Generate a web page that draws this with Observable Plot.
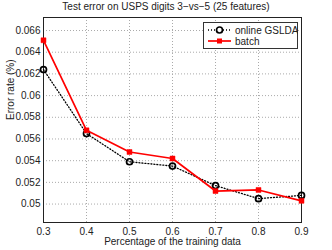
<!DOCTYPE html>
<html>
<head>
<meta charset="utf-8">
<script src="https://cdn.jsdelivr.net/npm/d3@7"></script>
<script src="https://cdn.jsdelivr.net/npm/@observablehq/plot@0.6"></script>
<style>
  body { margin: 0; background: #fff; font-family: "Liberation Sans", Arial, sans-serif; }
  #wrap { position: relative; width: 332px; height: 250px; overflow: hidden; }
  #title { height: 14px; line-height: 14px; font-size: 10px; text-align: center; color: #222; }
  #legend { position: absolute; left: 203px; top: 22px; }
  svg { display: block; }
</style>
</head>
<body>
<div id="wrap">
  <div id="title">Test error on USPS digits 3−vs−5 (25 features)</div>
  <div id="chart"></div>
  <div id="legend"></div>
</div>
<script>
const title = "Test error on USPS digits 3−vs−5 (25 features)";
const fractions = [0.3, 0.4, 0.5, 0.6, 0.7, 0.8, 0.9];
const onlineGSLDA = [0.0624, 0.0565, 0.0539, 0.0535, 0.0517, 0.0505, 0.0508];
const batch = [0.0651, 0.0568, 0.0548, 0.0542, 0.0512, 0.0513, 0.0503];
const seriesNames = ["online GSLDA", "batch"];
const xTicks = [0.3, 0.4, 0.5, 0.6, 0.7, 0.8, 0.9];
const yTicks = [0.05, 0.052, 0.054, 0.056, 0.058, 0.06, 0.062, 0.064, 0.066];
const xLabel = "Percentage of the training data";
const yLabel = "Error rate (%)";

const data = fractions.map((f, i) => ({f, online: onlineGSLDA[i], batch: batch[i]}));
const fmt = d => String(+d.toFixed(3));

const chart = Plot.plot({
  width: 332,
  height: 236,
  marginTop: 3,
  marginBottom: 28,
  marginLeft: 43,
  marginRight: 31,
  style: {fontFamily: "'Liberation Sans', Arial, sans-serif", fontSize: "10px", color: "#222"},
  x: {domain: [0.3, 0.9]},
  y: {domain: [0.0483, 0.0672]},
  marks: [
    Plot.gridX(xTicks.slice(1, -1), {stroke: "#aaa", strokeOpacity: 1, strokeDasharray: "1,2"}),
    Plot.gridY(yTicks, {stroke: "#aaa", strokeOpacity: 1, strokeDasharray: "1,2"}),
    Plot.axisX(xTicks, {tickSize: 0, tickPadding: 5, tickFormat: fmt, label: null, fontSize: 10}),
    Plot.axisY(yTicks, {tickSize: 0, tickPadding: 3, tickFormat: fmt, label: null, fontSize: 10}),
    Plot.frame({stroke: "#222"}),
    Plot.text([xLabel], {frameAnchor: "bottom", dy: 19, lineAnchor: "middle", fontSize: 10, fill: "#222"}),
    Plot.text([yLabel], {frameAnchor: "left", dx: -33, rotate: -90, lineAnchor: "middle", fontSize: 10, fill: "#222"}),
    Plot.line(data, {x: "f", y: "online", stroke: "#000", strokeWidth: 1.3, strokeDasharray: "1,2"}),
    Plot.dot(data, {x: "f", y: "online", r: 3, stroke: "#000", strokeWidth: 1.7, fill: "none"}),
    Plot.line(data, {x: "f", y: "batch", stroke: "#f00", strokeWidth: 1.7}),
    Plot.dot(data, {x: "f", y: "batch", symbol: "square", r: 2.8, fill: "#f00", stroke: "#f00", strokeWidth: 0.5})
  ]
});
document.getElementById("chart").appendChild(chart);

// legend
const lg = d3.select("#legend").append("svg").attr("width", 95).attr("height", 27)
  .style("font-family", "'Liberation Sans', Arial, sans-serif").style("font-size", "10px");
lg.append("rect").attr("x", 0.5).attr("y", 0.5).attr("width", 94).attr("height", 26)
  .attr("fill", "#fff").attr("stroke", "#333");
const rows = [
  {name: seriesNames[0], stroke: "#000", dash: "1,2", sym: "circle"},
  {name: seriesNames[1], stroke: "#f00", dash: null, sym: "square"}
];
rows.forEach((r, i) => {
  const y = 8 + i * 11;
  lg.append("line").attr("x1", 5).attr("x2", 28).attr("y1", y).attr("y2", y)
    .attr("stroke", r.stroke).attr("stroke-width", r.dash ? 1.3 : 1.7).attr("stroke-dasharray", r.dash);
  if (r.sym === "circle") {
    lg.append("circle").attr("cx", 16.5).attr("cy", y).attr("r", 3).attr("fill", "#fff")
      .attr("stroke", "#000").attr("stroke-width", 1.7);
  } else {
    lg.append("rect").attr("x", 14).attr("y", y - 2.5).attr("width", 5).attr("height", 5).attr("fill", "#f00");
  }
  lg.append("text").attr("x", 32).attr("y", y).attr("dy", "0.35em").attr("fill", "#222").text(r.name);
});
</script>
</body>
</html>
